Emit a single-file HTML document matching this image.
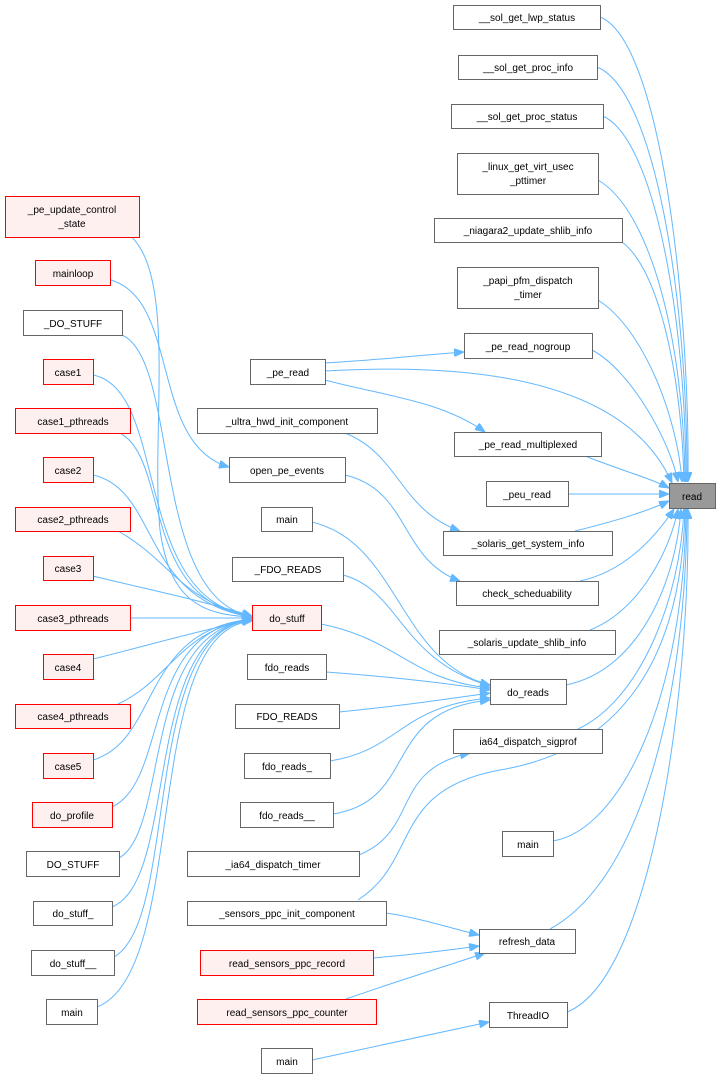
<!DOCTYPE html>
<html><head><meta charset="utf-8"><style>
html,body{margin:0;padding:0;background:#fff;}
svg text{font-family:"Liberation Sans",sans-serif;font-size:10px;fill:#000;text-anchor:middle;}
</style></head><body>
<svg width="721" height="1081" viewBox="0 0 721 1081" xmlns="http://www.w3.org/2000/svg">
<defs><marker id="a" viewBox="0 0 10 8" refX="10" refY="4" markerWidth="10" markerHeight="8" markerUnits="userSpaceOnUse" orient="auto"><polygon points="0,0 10,4 0,8" fill="#63b8ff" stroke="#63b8ff"/></marker></defs>
<g fill="none" stroke="#63b8ff" stroke-width="1" marker-end="url(#a)">
<!-- to read from right column -->
<path d="M600,17 C660,40 690,300 688,482"/>
<path d="M597,67 C655,90 688,300 687,482"/>
<path d="M603,116 C655,140 686,320 686,482"/>
<path d="M598,180 C650,210 684,340 685,482"/>
<path d="M622,242 C660,270 682,380 684,482"/>
<path d="M598,300 C645,330 678,420 682,482"/>
<path d="M592,350 C630,370 670,440 678,482"/>
<path d="M325,371 C430,365 620,365 672,483"/>
<path d="M585,456 C620,470 650,478 669,488"/>
<path d="M568,494 L669,494"/>
<path d="M575,531 C620,520 650,510 669,501"/>
<path d="M580,581 C630,570 660,530 674,509"/>
<path d="M590,630 C640,610 670,550 678,509"/>
<path d="M566,685 C640,670 676,580 681,509"/>
<path d="M578,729 C640,700 680,600 684,509"/>
<path d="M553,841 C620,830 684,700 686,509"/>
<path d="M550,929 C640,880 686,700 687,509"/>
<path d="M567,1012 C650,980 690,700 688,509"/>
<path d="M358,900 C420,860 390,790 500,770 C620,750 682,660 685,509"/>
<!-- others -->
<path d="M325,363 C380,360 420,355 464,352"/>
<path d="M325,380 C380,395 440,400 485,432"/>
<path d="M345,433 C400,455 400,510 460,531"/>
<path d="M345,475 C410,490 400,560 460,581"/>
<path d="M111,280 C180,300 150,445 229,467"/>
<path d="M286,519 C400,520 390,660 490,685"/>
<path d="M343,575 C400,590 400,660 490,686"/>
<path d="M321,624 C400,640 410,680 490,688"/>
<path d="M326,672 C380,676 440,682 490,690"/>
<path d="M339,712 C400,706 440,700 490,693"/>
<path d="M330,761 C400,750 400,706 490,698"/>
<path d="M333,814 C420,800 380,710 490,700"/>
<path d="M359,855 C420,830 390,770 470,753"/>
<path d="M386,913 C420,918 450,928 479,935"/>
<path d="M373,958 C420,954 450,950 479,946"/>
<path d="M346,999 C400,980 450,965 485,953"/>
<path d="M312,1060 C380,1045 440,1032 489,1022"/>
<!-- to do_stuff -->
<path d="M122,230 C180,260 150,430 160,530 C170,600 200,615 252,617"/>
<path d="M122,335 C180,360 150,600 252,616"/>
<path d="M93,375 C170,390 130,600 252,616"/>
<path d="M120,433 C170,460 140,600 252,617"/>
<path d="M93,475 C160,490 140,600 252,617"/>
<path d="M118,531 C170,560 180,600 252,617"/>
<path d="M93,576 C150,590 200,600 252,616"/>
<path d="M131,618 L252,618"/>
<path d="M93,659 C150,645 200,630 252,620"/>
<path d="M118,704 C170,680 180,630 252,619"/>
<path d="M93,760 C160,740 140,630 252,619"/>
<path d="M112,807 C170,780 140,630 252,619"/>
<path d="M119,858 C170,830 140,630 252,620"/>
<path d="M112,907 C180,880 140,630 252,620"/>
<path d="M114,957 C180,920 140,630 252,620"/>
<path d="M97,1007 C190,970 140,630 252,621"/>
</g>
<g stroke-width="1">
<g fill="#fff" stroke="#666">
<rect x="453.5" y="5.5" width="147" height="24"/>
<rect x="458.5" y="55.5" width="139" height="24"/>
<rect x="451.5" y="104.5" width="152" height="24"/>
<rect x="457.5" y="153.5" width="141" height="41"/>
<rect x="434.5" y="218.5" width="188" height="24"/>
<rect x="457.5" y="267.5" width="141" height="41"/>
<rect x="464.5" y="333.5" width="128" height="25"/>
<rect x="454.5" y="432.5" width="147" height="24"/>
<rect x="486.5" y="481.5" width="82" height="25"/>
<rect x="443.5" y="531.5" width="169" height="24"/>
<rect x="456.5" y="581.5" width="142" height="24"/>
<rect x="439.5" y="630.5" width="176" height="24"/>
<rect x="490.5" y="679.5" width="76" height="25"/>
<rect x="453.5" y="729.5" width="149" height="24"/>
<rect x="502.5" y="831.5" width="51" height="25"/>
<rect x="479.5" y="929.5" width="96" height="24"/>
<rect x="489.5" y="1002.5" width="78" height="25"/>
<rect x="250.5" y="359.5" width="75" height="25"/>
<rect x="197.5" y="408.5" width="180" height="25"/>
<rect x="229.5" y="457.5" width="116" height="25"/>
<rect x="261.5" y="507.5" width="51" height="24"/>
<rect x="232.5" y="557.5" width="111" height="24"/>
<rect x="247.5" y="654.5" width="79" height="25"/>
<rect x="235.5" y="704.5" width="104" height="24"/>
<rect x="244.5" y="753.5" width="86" height="25"/>
<rect x="240.5" y="802.5" width="93" height="25"/>
<rect x="187.5" y="851.5" width="172" height="25"/>
<rect x="187.5" y="901.5" width="199" height="24"/>
<rect x="261.5" y="1048.5" width="51" height="25"/>
<rect x="23.5" y="310.5" width="99" height="25"/>
<rect x="26.5" y="851.5" width="93" height="25"/>
<rect x="33.5" y="901.5" width="79" height="24"/>
<rect x="31.5" y="950.5" width="83" height="25"/>
<rect x="46.5" y="999.5" width="51" height="25"/>
</g>
<rect x="669.5" y="483.5" width="46" height="25" fill="#999" stroke="#666"/>
<g fill="#fff0f0" stroke="#f00">
<rect x="252.5" y="605.5" width="69" height="25"/>
<rect x="200.5" y="950.5" width="173" height="25"/>
<rect x="197.5" y="999.5" width="179" height="25"/>
<rect x="5.5" y="196.5" width="134" height="41"/>
<rect x="35.5" y="260.5" width="75" height="25"/>
<rect x="43.5" y="359.5" width="50" height="25"/>
<rect x="15.5" y="408.5" width="115" height="25"/>
<rect x="43.5" y="457.5" width="50" height="25"/>
<rect x="15.5" y="507.5" width="115" height="24"/>
<rect x="43.5" y="556.5" width="50" height="24"/>
<rect x="15.5" y="605.5" width="115" height="25"/>
<rect x="43.5" y="654.5" width="50" height="25"/>
<rect x="15.5" y="704.5" width="115" height="24"/>
<rect x="43.5" y="753.5" width="50" height="25"/>
<rect x="32.5" y="802.5" width="80" height="25"/>
</g>
</g>
<g>
<text x="527" y="21">__sol_get_lwp_status</text>
<text x="528" y="71">__sol_get_proc_info</text>
<text x="527" y="120">__sol_get_proc_status</text>
<text x="528" y="170">_linux_get_virt_usec</text>
<text x="528" y="184">_pttimer</text>
<text x="528" y="234">_niagara2_update_shlib_info</text>
<text x="528" y="284">_papi_pfm_dispatch</text>
<text x="528" y="298">_timer</text>
<text x="528" y="350">_pe_read_nogroup</text>
<text x="528" y="448">_pe_read_multiplexed</text>
<text x="527" y="498">_peu_read</text>
<text x="528" y="547">_solaris_get_system_info</text>
<text x="527" y="597">check_scheduability</text>
<text x="527" y="646">_solaris_update_shlib_info</text>
<text x="528" y="696">do_reads</text>
<text x="528" y="745">ia64_dispatch_sigprof</text>
<text x="528" y="848">main</text>
<text x="527" y="945">refresh_data</text>
<text x="528" y="1019">ThreadIO</text>
<text x="692" y="500">read</text>
<text x="288" y="376">_pe_read</text>
<text x="287" y="425">_ultra_hwd_init_component</text>
<text x="287" y="474">open_pe_events</text>
<text x="287" y="523">main</text>
<text x="288" y="573">_FDO_READS</text>
<text x="287" y="622">do_stuff</text>
<text x="287" y="671">fdo_reads</text>
<text x="287" y="720">FDO_READS</text>
<text x="287" y="770">fdo_reads_</text>
<text x="287" y="819">fdo_reads__</text>
<text x="273" y="868">_ia64_dispatch_timer</text>
<text x="287" y="917">_sensors_ppc_init_component</text>
<text x="287" y="967">read_sensors_ppc_record</text>
<text x="287" y="1016">read_sensors_ppc_counter</text>
<text x="287" y="1065">main</text>
<text x="72" y="213">_pe_update_control</text>
<text x="72" y="227">_state</text>
<text x="73" y="277">mainloop</text>
<text x="73" y="327">_DO_STUFF</text>
<text x="68" y="376">case1</text>
<text x="73" y="425">case1_pthreads</text>
<text x="68" y="474">case2</text>
<text x="73" y="523">case2_pthreads</text>
<text x="68" y="572">case3</text>
<text x="73" y="622">case3_pthreads</text>
<text x="68" y="671">case4</text>
<text x="73" y="720">case4_pthreads</text>
<text x="68" y="770">case5</text>
<text x="72" y="819">do_profile</text>
<text x="73" y="868">DO_STUFF</text>
<text x="73" y="917">do_stuff_</text>
<text x="73" y="967">do_stuff__</text>
<text x="72" y="1016">main</text>
</g>
</svg>
</body></html>
